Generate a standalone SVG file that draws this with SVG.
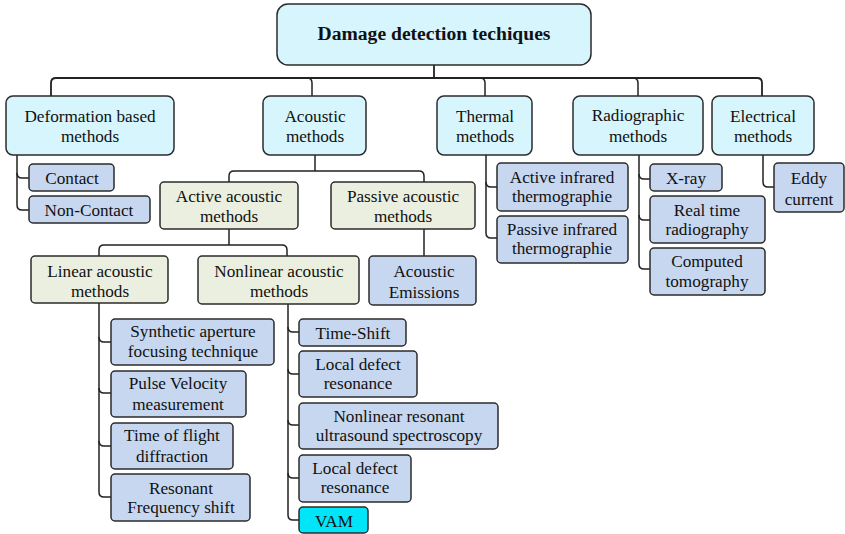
<svg xmlns="http://www.w3.org/2000/svg" width="845" height="534" viewBox="0 0 845 534" font-family="'Liberation Serif', Tinos, 'DejaVu Serif', serif">
<style>
rect{stroke:#2b2b2b;stroke-width:1.5}
.top{fill:#d6f5fd}
.mid{fill:#ebefdf}
.leaf{fill:#c7d7f0}
.vam{fill:#00e6f8}
text{font-family:'Liberation Serif', Tinos, 'DejaVu Serif', serif;font-size:17.2px;fill:#111;text-anchor:middle}
.t{font-size:19.6px;font-weight:bold}
.c path{fill:none;stroke:#222;stroke-width:1.5}
.c .bus{stroke-width:1.8}
</style>
<rect width="845" height="534" fill="#fff" style="stroke:none"/>
<g class="c" id="connectors">
<path class="bus" d="M434 65V78"/>
<path class="bus" d="M51 96V83Q51 78 56 78H757Q762 78 762 83V96"/>
<path d="M307 78Q312 78 312 83V96"/>
<path d="M480 78Q485 78 485 83V96"/>
<path d="M633 78Q638 78 638 83V96"/>
<path d="M17 155V173Q17 178 22 178H29"/>
<path d="M17 173V205Q17 210 22 210H29"/>
<path d="M315 155V171"/>
<path d="M229 182V176Q229 171 234 171H419Q424 171 424 176V182"/>
<path d="M229 229V245"/>
<path d="M99 256V250Q99 245 104 245H282Q287 245 287 250V256"/>
<path d="M424 229V256"/>
<path d="M99 303V337Q99 342 104 342H111"/>
<path d="M99 337V388Q99 393 104 393H111"/>
<path d="M99 388V441Q99 446 104 446H111"/>
<path d="M99 441V492Q99 497 104 497H111"/>
<path d="M288 304V327Q288 332 293 332H299"/>
<path d="M288 327V369Q288 374 293 374H299"/>
<path d="M288 369V420Q288 425 293 425H299"/>
<path d="M288 420V473Q288 478 293 478H299"/>
<path d="M288 473V515Q288 520 293 520H299"/>
<path d="M486 155V182Q486 187 491 187H497"/>
<path d="M486 182V233Q486 238 491 238H497"/>
<path d="M639 155V174Q639 179 644 179H650"/>
<path d="M639 174V215Q639 220 644 220H650"/>
<path d="M639 215V264Q639 269 644 269H650"/>
<path d="M763 155V182Q763 187 768 187H774"/>
</g>
<g id="root"><rect class="top" x="277" y="4" width="314" height="61" rx="11"/><text class="t" x="434" y="40">Damage detection techiques</text></g>
<g id="deformation"><rect class="top" x="6" y="96" width="168" height="59" rx="7"/><text x="90" y="122">Deformation based</text><text x="90" y="142">methods</text></g>
<g id="acoustic"><rect class="top" x="263" y="96" width="103" height="59" rx="7"/><text x="315" y="122">Acoustic</text><text x="315" y="142">methods</text></g>
<g id="thermal"><rect class="top" x="437" y="96" width="95" height="59" rx="7"/><text x="485" y="122">Thermal</text><text x="485" y="142">methods</text></g>
<g id="radiographic"><rect class="top" x="573" y="96" width="130" height="59" rx="7"/><text x="638" y="121">Radiographic</text><text x="638" y="142">methods</text></g>
<g id="electrical"><rect class="top" x="712" y="96" width="102" height="59" rx="7"/><text x="763" y="122">Electrical</text><text x="763" y="142">methods</text></g>
<g id="contact"><rect class="leaf" x="29" y="164" width="85" height="27" rx="4"/><text x="72" y="184">Contact</text></g>
<g id="noncontact"><rect class="leaf" x="29" y="196" width="121" height="27" rx="4"/><text x="89" y="216">Non-Contact</text></g>
<g id="active"><rect class="mid" x="160" y="182" width="138" height="47" rx="4"/><text x="229" y="202">Active acoustic</text><text x="229" y="222">methods</text></g>
<g id="passive"><rect class="mid" x="331" y="182" width="144" height="47" rx="4"/><text x="403" y="202">Passive acoustic</text><text x="403" y="222">methods</text></g>
<g id="linear"><rect class="mid" x="31" y="256" width="137" height="47" rx="4"/><text x="100" y="277">Linear acoustic</text><text x="100" y="297">methods</text></g>
<g id="nonlinear"><rect class="mid" x="198" y="256" width="161" height="48" rx="4"/><text x="279" y="277">Nonlinear acoustic</text><text x="279" y="297">methods</text></g>
<g id="emissions"><rect class="leaf" x="369" y="256" width="107" height="49" rx="4"/><text x="424" y="277">Acoustic</text><text x="424" y="298">Emissions</text></g>
<g id="saft"><rect class="leaf" x="111" y="319" width="163" height="46" rx="4"/><text x="193" y="337">Synthetic aperture</text><text x="193" y="357">focusing technique</text></g>
<g id="pulse"><rect class="leaf" x="111" y="371" width="135" height="46" rx="4"/><text x="178" y="389">Pulse Velocity</text><text x="178" y="410">measurement</text></g>
<g id="tofd"><rect class="leaf" x="111" y="423" width="122" height="46" rx="4"/><text x="172" y="441">Time of flight</text><text x="172" y="462">diffraction</text></g>
<g id="resonant"><rect class="leaf" x="111" y="474" width="139" height="47" rx="4"/><text x="181" y="494">Resonant</text><text x="181" y="513">Frequency shift</text></g>
<g id="timeshift"><rect class="leaf" x="299" y="319" width="107" height="27" rx="4"/><text x="353" y="339">Time-Shift</text></g>
<g id="ldr1"><rect class="leaf" x="299" y="351" width="118" height="46" rx="4"/><text x="358" y="370">Local defect</text><text x="358" y="389">resonance</text></g>
<g id="nrus"><rect class="leaf" x="299" y="403" width="199" height="46" rx="4"/><text x="399" y="422">Nonlinear resonant</text><text x="399" y="441">ultrasound spectroscopy</text></g>
<g id="ldr2"><rect class="leaf" x="299" y="455" width="112" height="47" rx="4"/><text x="355" y="474">Local defect</text><text x="355" y="493">resonance</text></g>
<g id="vam"><rect class="vam" x="299" y="507" width="69" height="26" rx="4"/><text x="334" y="527">VAM</text></g>
<g id="activeir"><rect class="leaf" x="497" y="163" width="131" height="48" rx="4"/><text x="562" y="183">Active infrared</text><text x="562" y="202">thermographie</text></g>
<g id="passiveir"><rect class="leaf" x="497" y="216" width="131" height="47" rx="4"/><text x="562" y="235">Passive infrared</text><text x="562" y="254">thermographie</text></g>
<g id="xray"><rect class="leaf" x="650" y="164" width="72" height="27" rx="4"/><text x="686" y="184">X-ray</text></g>
<g id="realtime"><rect class="leaf" x="650" y="196" width="115" height="47" rx="4"/><text x="707" y="216">Real time</text><text x="707" y="235">radiography</text></g>
<g id="computed"><rect class="leaf" x="650" y="248" width="115" height="47" rx="4"/><text x="707" y="267">Computed</text><text x="707" y="287">tomography</text></g>
<g id="eddy"><rect class="leaf" x="774" y="163" width="70" height="49" rx="4"/><text x="809" y="184">Eddy</text><text x="809" y="205">current</text></g>
</svg>
